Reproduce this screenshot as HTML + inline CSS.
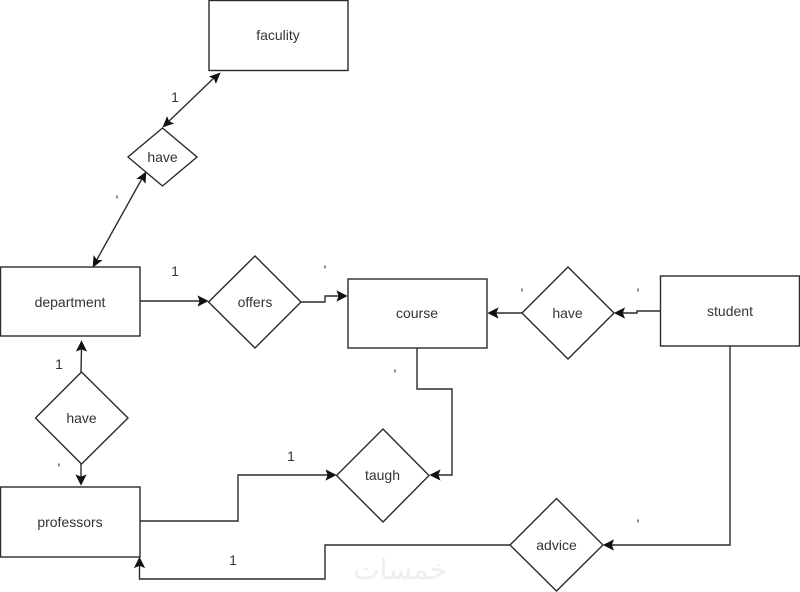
<!DOCTYPE html>
<html>
<head>
<meta charset="utf-8">
<style>
html,body{margin:0;padding:0;background:#fff;width:800px;height:592px;overflow:hidden}
svg{display:block;filter:blur(.35px)}
text{font-family:"Liberation Sans",sans-serif;font-size:14px;fill:#333;text-anchor:middle}
.s{fill:none;stroke:#2b2b2b;stroke-width:1.4}
.w{fill:#fff;stroke:#2b2b2b;stroke-width:1.4}
.a{fill:#111;stroke:#111;stroke-width:.6}
</style>
</head>
<body>
<svg width="800" height="592" viewBox="0 0 800 592" xmlns="http://www.w3.org/2000/svg">
<!-- connectors -->
<path class="s" d="M166 124L217 75"/>
<path class="s" d="M95 263L144 175"/>
<path class="s" d="M140 301H200"/>
<path class="s" d="M301 302H325V296H340"/>
<path class="s" d="M522 313H494"/>
<path class="s" d="M660 311H637V313H620"/>
<path class="s" d="M81 372L81.500 348"/>
<path class="s" d="M81 464V478"/>
<path class="s" d="M417 348V389H452V475H436"/>
<path class="s" d="M140 521H238V475H329"/>
<path class="s" d="M730 346V545H609"/>
<path class="s" d="M510 545H325V579H139.500V563"/>
<!-- arrowheads -->
<path class="a" d="M220 73L215.900 83.100L214.200 78.500L209.700 76.700Z"/>
<path class="a" d="M163 127L167.100 116.900L168.800 121.500L173.300 123.300Z"/>
<path class="a" d="M93 267L93.800 256L96.800 260L101.800 260.400Z"/>
<path class="a" d="M146 172L145.200 183L142.200 179L137.200 178.600Z"/>
<path class="a" d="M208 301L198 306L200 301L198 296Z"/>
<path class="a" d="M347 296L337 301L339 296L337 291Z"/>
<path class="a" d="M488 313L498 308L496 313L498 318Z"/>
<path class="a" d="M614.500 313L624.500 308L622.500 313L624.500 318Z"/>
<path class="a" d="M81.500 341L86.500 351L81.500 349L76.500 351Z"/>
<path class="a" d="M81 485L76 475L81 477L86 475Z"/>
<path class="a" d="M336 475L326 480L328 475L326 470Z"/>
<path class="a" d="M430 475L440 470L438 475L440 480Z"/>
<path class="a" d="M603.500 545L613.500 540L611.500 545L613.500 550Z"/>
<path class="a" d="M139.500 557.500L144.500 567.500L139.500 565.500L134.500 567.500Z"/>
<!-- entities -->
<rect class="w" x="209" y="0.500" width="139" height="70"/>
<rect class="w" x="0.500" y="267" width="139.500" height="69"/>
<rect class="w" x="348" y="279" width="139" height="69"/>
<rect class="w" x="660.500" y="276" width="139" height="70"/>
<rect class="w" x="0.500" y="487" width="139.500" height="70"/>
<!-- relations -->
<path class="w" d="M162.500 128L197 157L162.500 186L128 157Z"/>
<path class="w" d="M255 256L301 302L255 348L208.500 302Z"/>
<path class="w" d="M568 267L614 313L568 359L522 313Z"/>
<path class="w" d="M81.500 372L128 418L81.500 464L35.500 418Z"/>
<path class="w" d="M383 429L429 475.500L383 522L336.500 475.500Z"/>
<path class="w" d="M556.500 498.500L603 545L556.500 591L510 545Z"/>
<!-- labels -->
<text x="278" y="40">faculity</text>
<text x="162.500" y="162">have</text>
<text x="70" y="307">department</text>
<text x="255" y="307">offers</text>
<text x="417" y="318">course</text>
<text x="567.500" y="318">have</text>
<text x="730" y="316">student</text>
<text x="81.500" y="423">have</text>
<text x="70" y="527">professors</text>
<text x="382.500" y="480">taugh</text>
<text x="556.500" y="550">advice</text>
<!-- cardinalities -->
<text x="175" y="102">1</text>
<text x="175" y="276">1</text>
<text x="59" y="369">1</text>
<text x="291" y="461">1</text>
<text x="233" y="565">1</text>
<text x="117" y="205">'</text>
<text x="325" y="275">'</text>
<text x="522" y="298">'</text>
<text x="638" y="298">'</text>
<text x="395" y="379">'</text>
<text x="59" y="473">'</text>
<text x="638" y="529">'</text>
<!-- watermark -->
<text x="400" y="579" textLength="94" lengthAdjust="spacingAndGlyphs" style="font-family:'DejaVu Sans',sans-serif;font-size:28px;fill:#eee" direction="rtl">خمسات</text>
</svg>
</body>
</html>
